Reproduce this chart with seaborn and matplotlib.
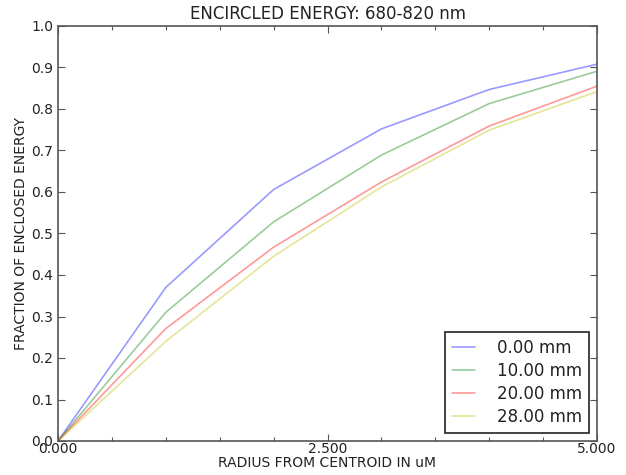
import matplotlib
matplotlib.use("Agg")
import matplotlib.pyplot as plt
from matplotlib.ticker import MultipleLocator, FormatStrFormatter
import seaborn as sns
import pandas as pd

# Encircled energy versus radius, one curve per field position
radius = [0, 1, 2, 3, 4, 5]
field_labels = ["0.00 mm", "10.00 mm", "20.00 mm", "28.00 mm"]
ee_0mm = [0.0, 0.370, 0.606, 0.752, 0.847, 0.908]
ee_10mm = [0.0, 0.310, 0.528, 0.689, 0.813, 0.891]
ee_20mm = [0.0, 0.271, 0.467, 0.624, 0.759, 0.855]
ee_28mm = [0.0, 0.240, 0.445, 0.612, 0.749, 0.842]
line_colors = ["b", "g", "r", "y"]

series = [ee_0mm, ee_10mm, ee_20mm, ee_28mm]
df = pd.DataFrame(
    [
        {"radius": r, "energy": v, "field": lab}
        for lab, vals in zip(field_labels, series)
        for r, v in zip(radius, vals)
    ]
)

sns.set_style("ticks")
plt.rcParams["font.family"] = ["DejaVu Sans"]
text_color = "#222222"

fig = plt.figure(figsize=(6.26, 4.75), dpi=100)
ax = fig.add_axes([58 / 626, 1 - 441 / 475, (597 - 58) / 626, (441 - 26) / 475])

sns.lineplot(
    data=df, x="radius", y="energy", hue="field",
    hue_order=field_labels, palette=dict(zip(field_labels, line_colors)),
    alpha=0.4, linewidth=1.2, ax=ax, legend=False, sort=False,
)

ax.set_xlim(0, 5)
ax.set_ylim(0, 1.0)
ax.xaxis.set_major_locator(MultipleLocator(2.5))
ax.xaxis.set_minor_locator(MultipleLocator(0.5))
ax.xaxis.set_major_formatter(FormatStrFormatter("%.3f"))
ax.yaxis.set_major_locator(MultipleLocator(0.1))
ax.yaxis.set_major_formatter(FormatStrFormatter("%.1f"))

ax.tick_params(which="both", direction="in", top=True, right=True,
               colors="#555555", labelcolor=text_color, labelsize=10)
ax.tick_params(which="major", length=5, width=0.8)
ax.tick_params(which="minor", length=3, width=0.8)
ax.tick_params(axis="x", which="major", pad=1)
for sp in ax.spines.values():
    sp.set_visible(True)
    sp.set_color("#555555")
    sp.set_linewidth(1.2)

ax.set_title("ENCIRCLED ENERGY: 680-820 nm", fontsize=12, color=text_color, pad=5)
ax.set_xlabel("RADIUS FROM CENTROID IN uM", fontsize=10, color=text_color, labelpad=0)
ax.set_ylabel("FRACTION OF ENCLOSED ENERGY", fontsize=10, color=text_color, labelpad=2)

handles = ax.get_lines()
leg = ax.legend(handles[:len(field_labels)], field_labels, loc="lower right",
                fontsize=12, frameon=True, fancybox=False, framealpha=1,
                edgecolor="#222222", handlelength=1.4, handletextpad=1.3,
                labelspacing=0.3, borderaxespad=0.5)
leg.get_frame().set_linewidth(1.2)
for t in leg.get_texts():
    t.set_color(text_color)

fig.savefig("out.png", dpi=100)
